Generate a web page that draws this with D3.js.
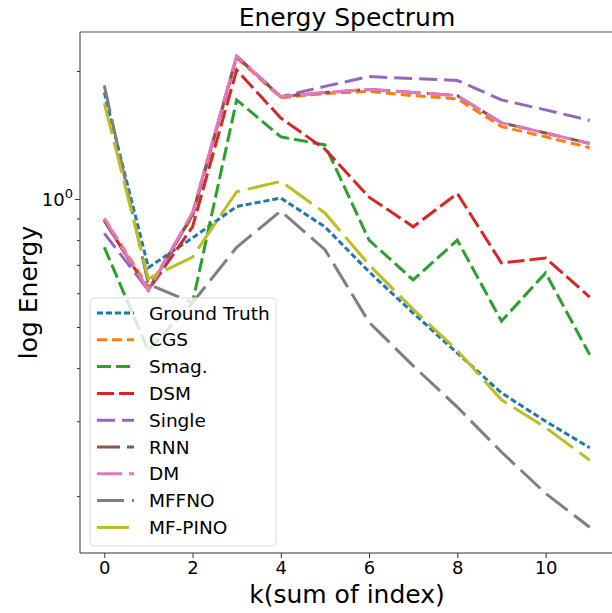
<!DOCTYPE html>
<html>
<head>
<script src="https://cdn.jsdelivr.net/npm/d3@7"></script>
<style>
body { margin: 0; background: #fff; }
text { font-family: 'DejaVu Sans', sans-serif; fill: #000; }
</style>
</head>
<body>
<svg id="chart" width="612" height="613"></svg>
<script>
const ks = [0, 1, 2, 3, 4, 5, 6, 7, 8, 9, 10, 11];
const seriesNames = ['Ground Truth', 'CGS', 'Smag.', 'DSM', 'Single', 'RNN', 'DM', 'MFFNO', 'MF-PINO'];
const groundTruth = [1.78, 0.69, 0.81, 0.96, 1.005, 0.86, 0.674, 0.539, 0.434, 0.35, 0.30, 0.26];
const cgs = [0.90, 0.62, 0.91, 2.15, 1.73, 1.77, 1.79, 1.75, 1.72, 1.48, 1.40, 1.32];
const smag = [0.77, 0.44, 0.57, 1.71, 1.40, 1.34, 0.80, 0.645, 0.80, 0.516, 0.67, 0.43];
const dsm = [0.89, 0.61, 0.86, 2.01, 1.55, 1.31, 1.01, 0.86, 1.03, 0.707, 0.726, 0.588];
const single = [0.83, 0.61, 0.92, 2.17, 1.74, 1.84, 1.94, 1.92, 1.90, 1.71, 1.62, 1.53];
const rnn = [0.89, 0.61, 0.92, 2.16, 1.74, 1.78, 1.81, 1.78, 1.75, 1.51, 1.43, 1.35];
const dm = [0.90, 0.61, 0.93, 2.17, 1.74, 1.78, 1.81, 1.78, 1.75, 1.51, 1.43, 1.35];
const mffno = [1.85, 0.63, 0.57, 0.77, 0.937, 0.76, 0.513, 0.405, 0.324, 0.254, 0.203, 0.169];
const mfpino = [1.68, 0.65, 0.73, 1.04, 1.10, 0.927, 0.70, 0.55, 0.44, 0.337, 0.29, 0.243];
const xTicks = [0, 2, 4, 6, 8, 10];
const yMinorTicks = [0.2, 0.3, 0.4, 0.5, 0.6, 0.7, 0.8, 0.9, 2];

const allValues = [groundTruth, cgs, smag, dsm, single, rnn, dm, mffno, mfpino];
const colors = ['#1f77b4', '#ff7f0e', '#2ca02c', '#d62728', '#9467bd', '#8c564b', '#e377c2', '#7f7f7f', '#bcbd22'];
const dashes = ['6,3', '10,5', '14,5', '17,5', '18,7', '23,7', '25,7', '27,8', '32,8'];

const svg = d3.select('#chart');
const pLeft = 80, pRight = 614, pTop = 32, pBottom = 553;

const x = d3.scaleLinear().domain([-0.55, 11.55]).range([pLeft, pRight]);
const y = d3.scaleLog().domain([0.147, 2.47]).range([pBottom, pTop]);

svg.append('clipPath').attr('id', 'clip')
  .append('rect').attr('x', pLeft).attr('y', pTop).attr('width', pRight - pLeft).attr('height', pBottom - pTop);

const line = d3.line().x((d, i) => x(ks[i])).y(d => y(d));

const plot = svg.append('g').attr('clip-path', 'url(#clip)');
allValues.forEach((vals, i) => {
  plot.append('path')
    .attr('d', line(vals))
    .attr('fill', 'none')
    .attr('stroke', colors[i])
    .attr('stroke-width', 3)
    .attr('stroke-dasharray', dashes[i]);
});

// axes
const xAxis = svg.append('g').attr('transform', `translate(0,${pBottom})`)
  .call(d3.axisBottom(x).tickValues(xTicks).tickSize(5).tickPadding(3));
xAxis.select('.domain').remove();
xAxis.selectAll('text').style('font-size', '18px');

const yAxis = svg.append('g').attr('transform', `translate(${pLeft},0)`)
  .call(d3.axisLeft(y).tickValues([1]).tickSize(5).tickFormat(() => ''));
yAxis.select('.domain').remove();
const yMinor = svg.append('g').attr('transform', `translate(${pLeft},0)`)
  .call(d3.axisLeft(y).tickValues(yMinorTicks).tickSize(3).tickFormat(() => ''));
yMinor.select('.domain').remove();
svg.selectAll('.tick line').attr('stroke', '#333');

const lab = svg.append('text').attr('x', pLeft - 7).attr('y', y(1) + 7).attr('text-anchor', 'end').style('font-size', '18px');
lab.append('tspan').text('10');
lab.append('tspan').attr('dy', -8).style('font-size', '13px').text('0');

// spines
svg.append('line').attr('x1', pLeft).attr('x2', pLeft).attr('y1', pTop).attr('y2', pBottom).attr('stroke', '#333');
svg.append('line').attr('x1', pLeft).attr('x2', pRight).attr('y1', pBottom).attr('y2', pBottom).attr('stroke', '#333');
svg.append('line').attr('x1', pLeft).attr('x2', pRight).attr('y1', pTop).attr('y2', pTop).attr('stroke', '#555');

// titles
svg.append('text').attr('x', (pLeft + pRight) / 2).attr('y', 26).attr('text-anchor', 'middle')
  .style('font-size', '25px').text('Energy Spectrum');
svg.append('text').attr('x', (pLeft + pRight) / 2).attr('y', 603).attr('text-anchor', 'middle')
  .style('font-size', '25px').text('k(sum of index)');
svg.append('text').attr('transform', `translate(37,${(pTop + pBottom) / 2}) rotate(-90)`).attr('text-anchor', 'middle')
  .style('font-size', '25px').text('log Energy');

// legend
const lg = svg.append('g').attr('transform', 'translate(90,298)');
lg.append('rect').attr('width', 186).attr('height', 248).attr('rx', 4)
  .attr('fill', 'white').attr('fill-opacity', 0.8).attr('stroke', '#ddd');
seriesNames.forEach((name, i) => {
  const yy = 15 + i * 26.8;
  lg.append('line').attr('x1', 7).attr('x2', 44).attr('y1', yy).attr('y2', yy)
    .attr('stroke', colors[i]).attr('stroke-width', 3).attr('stroke-dasharray', dashes[i]);
  lg.append('text').attr('x', 59).attr('y', yy + 6.5).style('font-size', '18.5px').text(name);
});
</script>
</body>
</html>
